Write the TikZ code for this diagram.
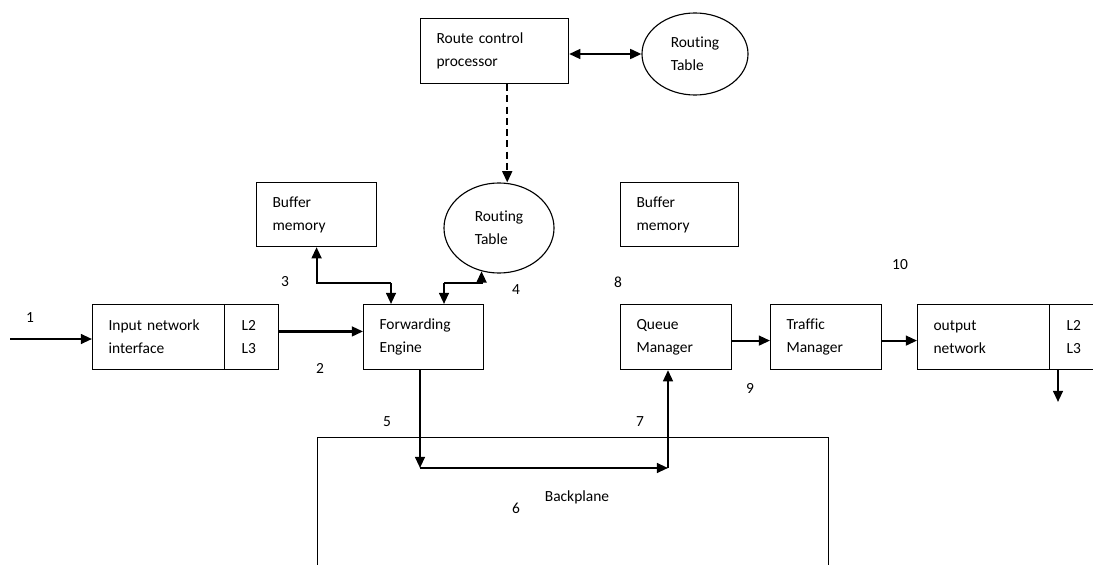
\documentclass[tikz,border=0pt]{standalone}
\usepackage{fontspec}
\setmainfont{Carlito}[Ligatures=NoCommon]
\usetikzlibrary{positioning,shapes.geometric,arrows.meta,calc}

\begin{document}
\begin{tikzpicture}[x=0.025cm,y=-0.025cm,
  every node/.style={font=\fontsize{11}{16.3}\selectfont},
  blk/.style={draw,line width=0.8pt,anchor=north west,align=left,inner xsep=0.4cm,inner ysep=0pt,minimum height=1.625cm,text width=#1},
  tbl/.style={draw,ellipse,line width=0.8pt,align=left,inner sep=0pt},
  arr/.style={line width=1.5pt,-{Triangle[length=8pt,width=7pt]}},
  dblarr/.style={line width=1.5pt,{Triangle[length=8pt,width=7pt]}-{Triangle[length=8pt,width=7pt]}}]
\useasboundingbox (0,0) rectangle (1093,565);

% blocks
\node[blk=2.9cm] (rcp) at (420,18) {Route control\\processor};
\node[tbl,minimum width=2.65cm,minimum height=2.05cm] (rt1) at (695,54) {Routing\\Table};
\node[blk=2.2cm,minimum height=1.6cm] (buf1) at (256,182) {Buffer\\memory};
\node[tbl,minimum width=2.75cm,minimum height=2.25cm] (rt2) at (499,228) {Routing\\Table};
\node[blk=2.15cm,minimum height=1.6cm] (buf2) at (620,182) {Buffer\\memory};
\node[blk=2.5cm] (inp) at (92,304) {Input network\\interface};
\node[blk=0.5cm,inner xsep=0.425cm] (inpL) at (224,304) {L2\\L3};
\node[blk=2.2cm] (fe) at (363,304) {Forwarding\\Engine};
\node[blk=1.975cm] (qm) at (620,304) {Queue\\Manager};
\node[blk=1.975cm] (tm) at (770,304) {Traffic\\Manager};
\node[blk=2.5cm] (outp) at (917,304) {output\\network};
\node[blk=0.45cm,inner xsep=0.425cm] (outL) at (1049,304) {L2\\L3};

% backplane
\coordinate (bpl) at (317,570);
\coordinate (bpr) at (828,570);
\draw[line width=0.6pt] (bpl) |- (828,437) -- (bpr);
\node (bp) at (577,497) {Backplane};

% numbers
\node (n1) at (30,318) {1};
\node (n2) at (320,368) {2};
\node (n3) at (285,282) {3};
\node (n4) at (516,290) {4};
\node (n5) at (387,422) {5};
\node (n6) at (516,508) {6};
\node (n7) at (640,422) {7};
\node (n8) at (618,282) {8};
\node (n9) at (750,388) {9};
\node (n10) at (900,265) {10};

% connectors
\coordinate (src) at (10,339);
\coordinate (j3) at (391,283);
\coordinate (j4) at (444,283);
\coordinate (turn1) at (420,468);
\coordinate (turn2) at (668,468);
\coordinate (sink) at (1058,402);

\draw[dblarr] (rcp.east |- rt1.west) -- (rt1.west);
\draw[arr,dash pattern=on 5pt off 3pt] ([xshift=9pt]rcp.south) -- ([xshift=9pt]rcp.south |- rt2.north);
\draw[arr] (src) -- (src -| inp.west);
\draw[arr] ([yshift=4pt]inpL.east) -- ([yshift=4pt]fe.west);
\draw[line width=1.5pt,{Triangle[length=8pt,width=7pt]}-] (buf1.south) |- (j3);
\draw[arr] (j3) -- (j3 |- fe.north);
\draw[line width=1.5pt,{Triangle[length=8pt,width=7pt]}-] (rt2.248) |- (j4);
\draw[arr] (j4) -- (j4 |- fe.north);
\draw[arr] (fe.south -| turn1) -- (turn1);
\draw[arr] (turn1) -- (turn2);
\draw[arr] (turn2) -- (turn2 |- qm.south);
\draw[arr] ([yshift=-2.5pt]qm.east) -- ([yshift=-2.5pt]tm.west);
\draw[arr] ([yshift=-2.5pt]tm.east) -- ([yshift=-2.5pt]outp.west);
\draw[arr] (sink |- outL.south) -- (sink);
\end{tikzpicture}
\end{document}
